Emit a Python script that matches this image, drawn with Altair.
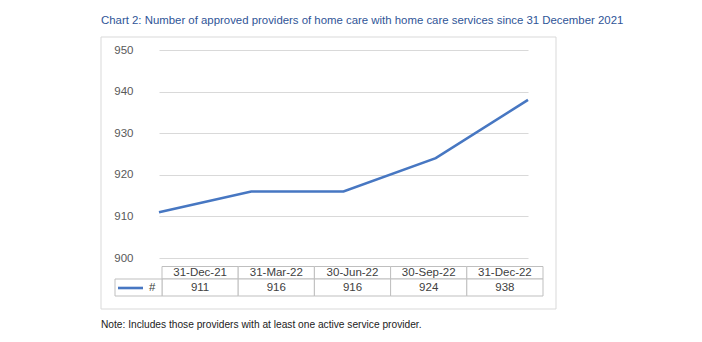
import altair as alt
import pandas as pd

dates = ["31-Dec-21", "31-Mar-22", "30-Jun-22", "30-Sep-22", "31-Dec-22"]
values = [911, 916, 916, 924, 938]
y_ticks = [900, 910, 920, 930, 940, 950]
title_text = "Chart 2: Number of approved providers of home care with home care services since 31 December 2021"
note_text = "Note: Includes those providers with at least one active service provider."
series_name = "#"

FONT = "Liberation Sans"
W, H = 398, 208

df = pd.DataFrame({"date": dates, "value": values})
tbl = pd.DataFrame({"period": dates, "value": [str(v) for v in values]})
one = alt.Data(values=[{"k": 1}])

box = alt.Chart(one).mark_rect(fill="transparent", stroke="#D9D9D9", strokeWidth=1).encode(
    x=alt.value(-44), x2=alt.value(411), y=alt.value(-13), y2=alt.value(259)
)

line = alt.Chart(df).mark_line(color="#4777C2", strokeWidth=2.6).encode(
    x=alt.X("date:O", sort=dates, axis=None,
            scale=alt.Scale(type="point", range=[14, 383], padding=0)),
    y=alt.Y("value:Q", scale=alt.Scale(domain=[900, 950], nice=False, zero=False),
            axis=alt.Axis(values=y_ticks, title=None, grid=True, gridColor="#D9D9D9",
                          gridWidth=1, domain=False, ticks=False, labelPadding=12,
                          labelFont=FONT, labelFontSize=11.5, labelColor="#595959")),
)

def xband():
    return alt.X("period:O", sort=dates, axis=None,
                 scale=alt.Scale(type="band", range=[17, 398], paddingInner=0, paddingOuter=0))

cell_style = dict(fill="white", stroke="#BFBFBF", strokeWidth=1)
head_cells = alt.Chart(tbl).mark_rect(**cell_style).encode(
    x=xband(), y=alt.value(216.5), y2=alt.value(229))
data_cells = alt.Chart(tbl).mark_rect(**cell_style).encode(
    x=xband(), y=alt.value(229), y2=alt.value(246))
text_style = dict(font=FONT, fontSize=11.5, color="#404040", baseline="middle", align="center")
head_text = alt.Chart(tbl).mark_text(**text_style).encode(
    x=alt.X("period:O", sort=dates, axis=None,
            scale=alt.Scale(type="band", range=[17, 398], paddingInner=0, paddingOuter=0),
            bandPosition=0.5),
    y=alt.value(223), text="period:N")
data_text = alt.Chart(tbl).mark_text(**text_style).encode(
    x=alt.X("period:O", sort=dates, axis=None,
            scale=alt.Scale(type="band", range=[17, 398], paddingInner=0, paddingOuter=0),
            bandPosition=0.5),
    y=alt.value(238), text="value:N")

legend_cell = alt.Chart(one).mark_rect(**cell_style).encode(
    x=alt.value(-30), x2=alt.value(17), y=alt.value(229), y2=alt.value(246))
legend_swatch = alt.Chart(one).mark_rule(color="#4777C2", strokeWidth=2.6).encode(
    x=alt.value(-27), x2=alt.value(-2), y=alt.value(238))
legend_label = alt.Chart(one).mark_text(font=FONT, fontSize=11.5, color="#404040",
                                        align="left", baseline="middle").encode(
    x=alt.value(4), y=alt.value(238), text=alt.value(series_name))

title = alt.Chart(one).mark_text(font=FONT, fontSize=11.4, color="#2F5597",
                                 align="left", baseline="alphabetic").encode(
    x=alt.value(-44), y=alt.value(-26), text=alt.value(title_text))
note = alt.Chart(one).mark_text(font=FONT, fontSize=10.2, color="#222222",
                                align="left", baseline="alphabetic").encode(
    x=alt.value(-44), y=alt.value(278), text=alt.value(note_text))

chart = alt.layer(
    box, line, head_cells, data_cells, head_text, data_text,
    legend_cell, legend_swatch, legend_label, title, note
).resolve_scale(x="independent").properties(
    width=W, height=H,
    autosize=alt.AutoSizeParams(type="none"),
    padding={"left": 145, "top": 50, "right": 159, "bottom": 84},
    background="white",
).configure_view(stroke=None)

chart.save("out.html", embed_options={"renderer": "svg", "actions": False})
